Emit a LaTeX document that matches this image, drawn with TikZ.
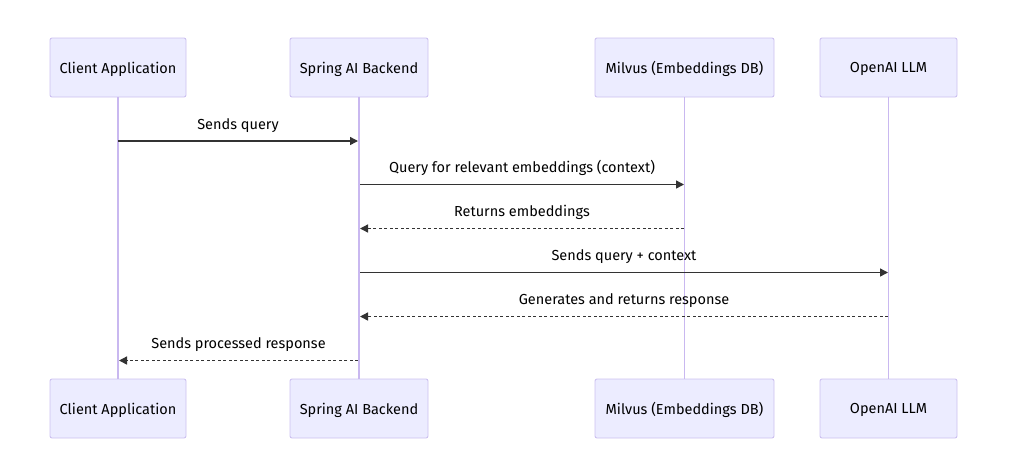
\documentclass[tikz,border=0pt]{standalone}
\usepackage{fontspec}
\setmainfont{Fira Sans}
\usetikzlibrary{arrows.meta}
\definecolor{boxfill}{HTML}{ECECFF}
\definecolor{boxline}{HTML}{CCC0F0}
\definecolor{lifeline}{HTML}{C9B8F0}
\definecolor{msgline}{HTML}{333333}
\begin{document}
\begin{tikzpicture}[x=1pt,y=-1pt,
  actor/.style={draw=boxline, fill=boxfill, rounded corners=2pt, line width=0.9pt,
    minimum height=59pt, inner sep=0pt, text depth=0pt, font=\fontsize{14.5}{16}\selectfont, text=black},
  life/.style={draw=lifeline, line width=1.2pt},
  msg/.style={draw=msgline, line width=1.4pt, -{Triangle[length=8pt,width=8pt]}},
  reply/.style={msg, dash pattern=on 3pt off 2.5pt},
  lbl/.style={font=\fontsize{14.5}{16}\selectfont, text=black, inner sep=0pt}]
\useasboundingbox (0,0) rectangle (1024,475);
% top actors
\node[actor, minimum width=136pt] (ca) at (118,67.5) {Client Application};
\node[actor, minimum width=138pt] (sb) at (359,67.5) {Spring AI Backend};
\node[actor, minimum width=179pt] (mv) at (684.5,67.5) {Milvus (Embeddings DB)};
\node[actor, minimum width=137pt] (oa) at (888.5,67.5) {OpenAI LLM};
% bottom actors
\node[actor, minimum width=136pt] (ca2) at (118,408.5) {Client Application};
\node[actor, minimum width=138pt] (sb2) at (359,408.5) {Spring AI Backend};
\node[actor, minimum width=179pt] (mv2) at (684.5,408.5) {Milvus (Embeddings DB)};
\node[actor, minimum width=137pt] (oa2) at (888.5,408.5) {OpenAI LLM};
% lifelines
\draw[life] (ca.south) -- (ca2.north);
\draw[life] (sb.south) -- (sb2.north);
\draw[life] (mv.south) -- (mv2.north);
\draw[life] (oa.south) -- (oa2.north);
% message end points
\coordinate (m1a) at (118,141); \coordinate (m1b) at (358,141);
\coordinate (m2a) at (360,184.5); \coordinate (m2b) at (684,184.5);
\coordinate (m3a) at (684,228.5); \coordinate (m3b) at (360,228.5);
\coordinate (m4a) at (360,272.5); \coordinate (m4b) at (888,272.5);
\coordinate (m5a) at (888,316.5); \coordinate (m5b) at (360,316.5);
\coordinate (m6a) at (358,360.5); \coordinate (m6b) at (119,360.5);
% messages
\draw[msg] (m1a) -- node[lbl, above=8pt] (l1) {Sends query} (m1b);
\draw[msg] (m2a) -- node[lbl, above=8pt] (l2) {Query for relevant embeddings (context)} (m2b);
\draw[reply] (m3a) -- node[lbl, above=8pt] (l3) {Returns embeddings} (m3b);
\draw[msg] (m4a) -- node[lbl, above=8pt] (l4) {Sends query + context} (m4b);
\draw[reply] (m5a) -- node[lbl, above=8pt] (l5) {Generates and returns response} (m5b);
\draw[reply] (m6a) -- node[lbl, above=8pt] (l6) {Sends processed response} (m6b);
\end{tikzpicture}
\end{document}
